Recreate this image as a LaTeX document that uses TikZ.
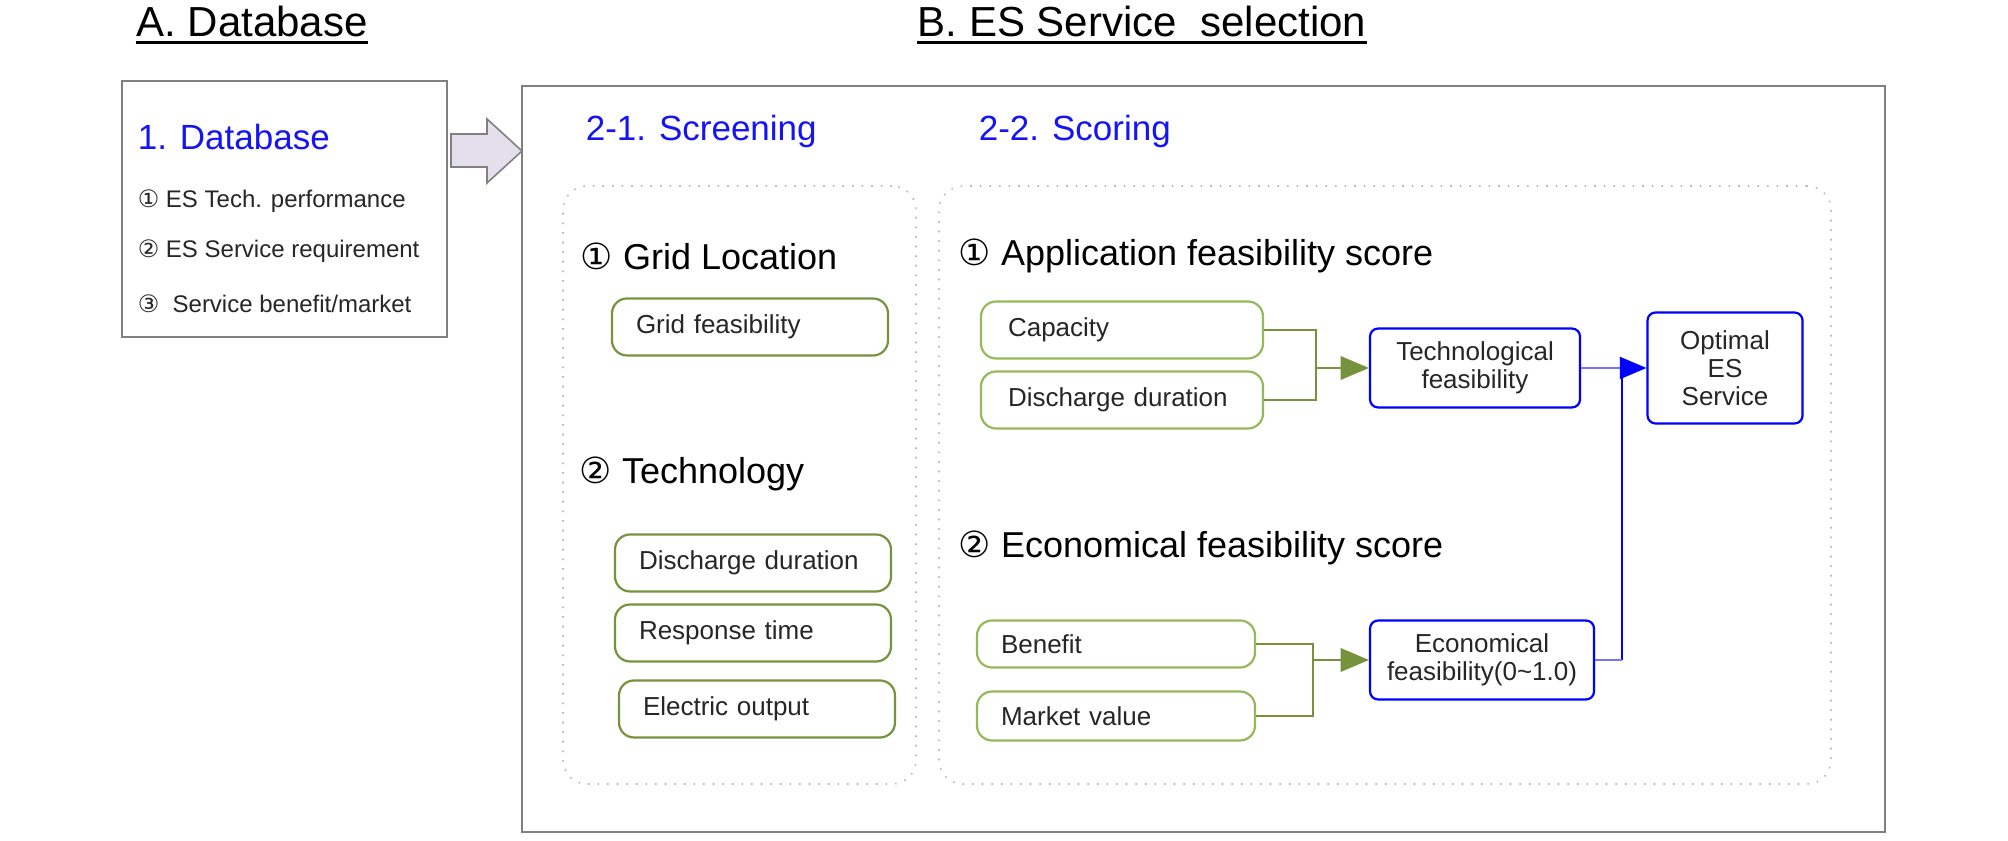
\documentclass[tikz,border=0pt]{standalone}
\usepackage{fontspec}
\setmainfont{Liberation Sans}
\newfontfamily\circfont{DejaVu Sans}
\usepackage{tikz}
\usetikzlibrary{arrows}

\definecolor{dbblue}{RGB}{20,20,245}
\definecolor{olive}{RGB}{118,146,60}
\definecolor{olivelight}{RGB}{150,184,88}
\definecolor{boxgray}{RGB}{128,128,128}
\definecolor{arrowfill}{RGB}{228,223,236}

\newcommand{\cnum}[1]{{\circfont #1}}
\newcommand{\ttlfont}{\fontsize{10.5pt}{12pt}\selectfont}
\newcommand{\hdfont}{\fontsize{8.75pt}{10pt}\selectfont}
\newcommand{\secfont}{\fontsize{9pt}{11pt}\selectfont}
\newcommand{\lstfont}{\fontsize{6pt}{7pt}\selectfont}
\newcommand{\bxfont}{\fontsize{6.5pt}{7pt}\selectfont}

\begin{document}
\begin{tikzpicture}[x=0.25pt, y=-0.25pt,
    frame/.style={draw=boxgray, line width=0.5pt},
    panel/.style={draw=gray!55, dotted, line width=0.4pt, rounded corners=6pt},
    item/.style={draw=olive, line width=0.55pt, rounded corners=3.75pt,
                 minimum height=14.25pt, text width=57pt, inner xsep=6pt,
                 align=left, font=\bxfont, text=black!85},
    score/.style={item, draw=olivelight, text width=57pt, inner xsep=6.75pt},
    result/.style={draw=blue, line width=0.55pt, rounded corners=2pt,
                   align=center, font=\bxfont, text=black!85},
    gline/.style={draw=olive, line width=0.6pt},
    bline/.style={draw=blue, line width=0.5pt},
    head/.style={anchor=west, inner sep=0pt, text=dbblue, font=\hdfont},
    sec/.style={anchor=west, inner sep=0pt, font=\secfont},
    lst/.style={anchor=west, inner sep=0pt, font=\lstfont, text=black!85}]
  \useasboundingbox (0,0) rectangle (2008,841);

  \node[inner sep=0pt, font=\ttlfont] (ttlA) at (252,22)  {A. Database};
  \node[inner sep=0pt, font=\ttlfont] (ttlB) at (1142,22) {B. ES Service~~selection};
  \draw[line width=0.7pt] ([yshift=-1.3pt]ttlA.base west) -- ([yshift=-1.3pt]ttlA.base east);
  \draw[line width=0.7pt] ([yshift=-1.3pt]ttlB.base west) -- ([yshift=-1.3pt]ttlB.base east);

  \node[frame, minimum width=81.25pt, minimum height=64pt] (dbbox) at (284.5,209) {};
  \node[head] (dbhead) at (137,137) {1. Database};
  \node[lst]  (db1)    at (137,201) {\cnum{①} ES Tech. performance};
  \node[lst]  (db2)    at (137,251) {\cnum{②} ES Service requirement};
  \node[lst]  (db3)    at (137,304) {\cnum{③}~ Service benefit/market};

  \node[frame, minimum width=340.75pt, minimum height=186.5pt] (selbox) at (1203.5,459) {};
  \draw[draw=boxgray, fill=arrowfill, line width=0.4pt]
    (451,134) -- (487,134) -- (487,119) -- (522,151) -- (487,183) -- (487,167) -- (451,167) -- cycle;

  \node[head] (scrhead) at (585,131) {2-1. Screening};
  \node[head] (schead)  at (978,131) {2-2. Scoring};
  \node[panel, minimum width=88.25pt, minimum height=149.5pt] (scrpanel) at (739.5,485) {};
  \node[panel, minimum width=223pt,   minimum height=149.5pt] (scpanel)  at (1385,485)  {};

  \node[sec]  (gridsec) at (580,256) {\cnum{①} Grid Location};
  \node[item] (grid)    at (750,327) {Grid feasibility};
  \node[sec]  (techsec) at (579,474) {\cnum{②} Technology};
  \node[item] (dd)      at (753,563) {Discharge duration};
  \node[item] (rt)      at (753,633) {Response time};
  \node[item] (eo)      at (757,709) {Electric output};

  \node[sec]   (appsec) at (958,256) {\cnum{①} Application feasibility score};
  \node[score] (cap)    at (1122,330) {Capacity};
  \node[score] (dis)    at (1122,400) {Discharge duration};
  \node[sec]   (ecosec) at (958,548) {\cnum{②} Economical feasibility score};
  \node[score, minimum height=11.75pt, text width=57.5pt, inner xsep=6pt] (ben) at (1116,644) {Benefit};
  \node[score, minimum height=12.25pt, text width=57.5pt, inner xsep=6pt] (mkt) at (1116,716) {Market value};

  \node[result, minimum width=52.5pt, minimum height=19.25pt] (tech) at (1475,368) {Technological\\feasibility};
  \node[result, minimum width=56pt,   minimum height=19.25pt] (econ) at (1482,660) {Economical\\feasibility(0\textasciitilde1.0)};
  \node[result, minimum width=38.75pt, minimum height=27.75pt] (opt) at (1725,368) {Optimal\\ES\\Service};

  \coordinate (jt) at (1316,368);
  \coordinate (je) at (1313,660);
  \coordinate (jo) at (1622,368);

  \draw[gline] (cap.east) -| (jt) |- (dis.east);
  \draw[gline, -triangle 45] (jt) -- (tech.west);
  \draw[gline] (ben.east) -| (je) |- (mkt.east);
  \draw[gline, -triangle 45] (je) -- (econ.west);

  \draw[bline, draw=blue!55, line width=0.7pt] (tech.east) -- (jo);
  \draw[bline, -triangle 45] (jo) -- (opt.west);
  \draw[bline] (jo) -- (jo |- econ.east);
  \draw[bline, draw=blue!55, line width=0.7pt] (jo |- econ.east) -- (econ.east);
\end{tikzpicture}
\end{document}
